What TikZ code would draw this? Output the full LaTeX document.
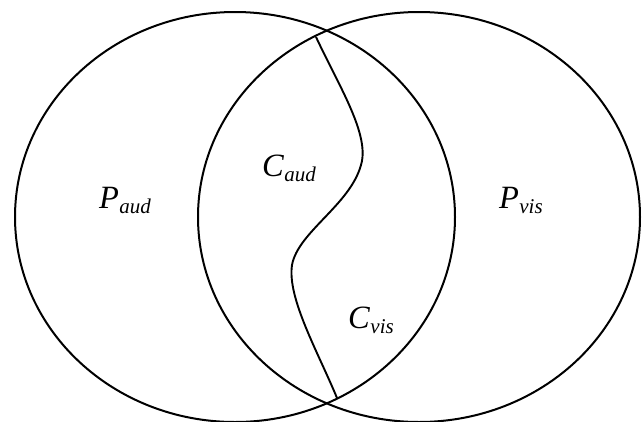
\documentclass[tikz,border=0pt]{standalone}
\usepackage{fontspec}
\setmainfont{Liberation Serif}
\newcommand{\lbl}[2]{{\fontsize{32.5}{33}\selectfont\textit{#1}}\hspace{0.5pt}\raisebox{-5pt}{\fontsize{21}{22}\selectfont\textit{#2}}}
\begin{document}
\begin{tikzpicture}[x=1pt,y=-1pt,
  ring/.style={line width=2pt, draw=black},
  sep/.style={line width=1.9pt, draw=black},
  lab/.style={anchor=base west, inner sep=0pt, outer sep=0pt}]
\useasboundingbox (0,0) rectangle (643,421);
\draw[ring] (235,217) ellipse [x radius=220, y radius=205];
\draw[ring] (419,217) ellipse [x radius=221, y radius=205];
\draw[sep] (316,37) .. controls (340,88) and (370,135) .. (361,165)
  .. controls (350,205) and (298,232) .. (292,265)
  .. controls (287,298) and (318,352) .. (337,398);
\node[lab] (paud) at (99,208) {\lbl{P}{aud}};
\node[lab] (caud) at (262,176) {\lbl{C}{aud}};
\node[lab] (pvis) at (499,208) {\lbl{P}{vis}};
\node[lab] (cvis) at (348,328) {\lbl{C}{vis}};
\end{tikzpicture}
\end{document}
